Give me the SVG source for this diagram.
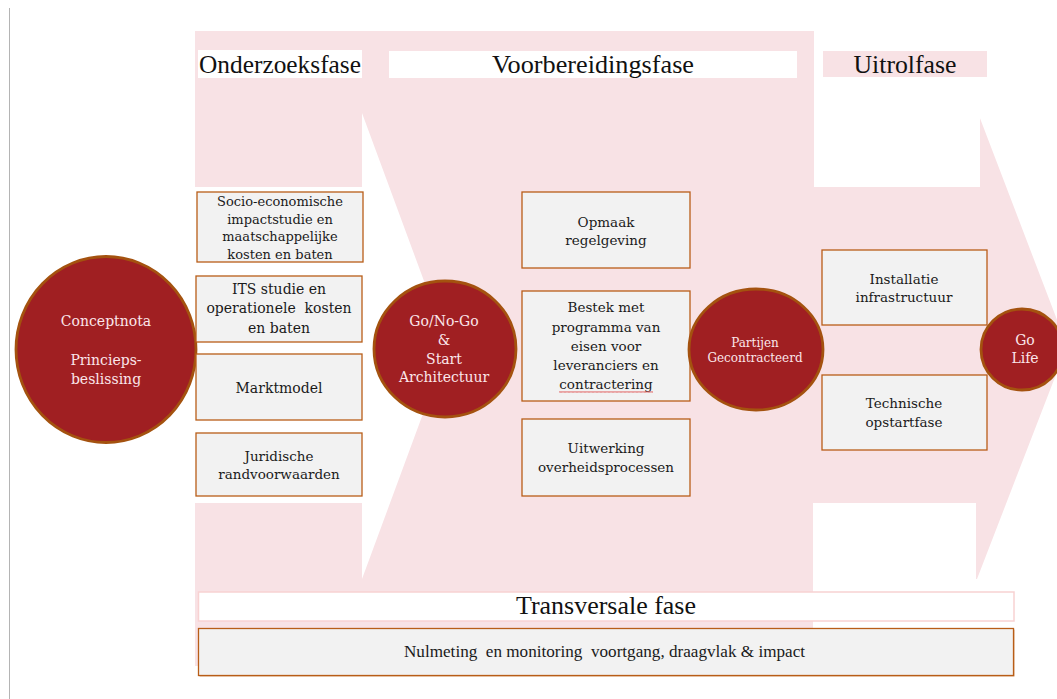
<svg xmlns="http://www.w3.org/2000/svg" width="1057" height="699" viewBox="0 0 1057 699">
<style>
.pink{fill:#f8e2e5}
.wht{fill:#ffffff}
.box{fill:#f2f2f2;stroke:#b85d17;stroke-width:1.3}
.circ{fill:#a01f22;stroke:#a4520f;stroke-width:2.8}
.bt{font-family:"DejaVu Serif","Liberation Serif",serif;font-size:13.5px;fill:#1a1a1a;text-anchor:middle}
.ct{font-family:"DejaVu Serif","Liberation Serif",serif;font-size:14px;fill:#fbe6ea;text-anchor:middle}
.hd{font-family:"Liberation Serif",serif;font-size:25px;fill:#111111}
</style>
<defs>
<pattern id="squig" x="559" y="390" width="4" height="4" patternUnits="userSpaceOnUse">
<polyline points="0,2.8 1,1.2 2,2.8 3,1.2 4,2.8" fill="none" stroke="#e05555" stroke-width="0.7"/>
</pattern>
</defs>
<line x1="9.5" y1="8" x2="9.5" y2="699" stroke="#b4b4b4" stroke-width="1"/>
<g id="background">
<rect class="pink" x="195" y="31" width="619" height="82"/>
<rect class="pink" x="195" y="113" width="167" height="74"/>
<polygon class="pink" points="362,113 978,113 1067,346 977,579 362,579 448,346"/>
<rect class="pink" x="195" y="503" width="167" height="76"/>
<rect class="pink" x="195" y="579" width="619" height="87"/>
<rect class="wht" x="814" y="31" width="166" height="156"/>
<rect class="wht" x="813" y="503" width="163" height="125"/>
</g>
<g id="phase-headers">
<rect class="wht" x="198" y="50" width="164" height="28"/>
<text class="hd" x="199" y="72.5" textLength="162" lengthAdjust="spacingAndGlyphs">Onderzoeksfase</text>
<rect class="wht" x="389" y="51" width="408" height="27"/>
<text class="hd" x="593" y="72.5" text-anchor="middle" textLength="202" lengthAdjust="spacingAndGlyphs">Voorbereidingsfase</text>
<rect class="pink" x="823" y="51" width="164" height="26"/>
<text class="hd" x="905" y="72.5" text-anchor="middle" textLength="103" lengthAdjust="spacingAndGlyphs">Uitrolfase</text>
</g>
<g id="connectors"></g>
<g id="conceptnota">
<ellipse class="circ" cx="106" cy="349.5" rx="90" ry="93"/>
<text class="ct" x="106" y="326">Conceptnota</text>
<text class="ct" x="106" y="365">Princieps-</text>
<text class="ct" x="106" y="384">beslissing</text>
</g>
<g id="socio">
<rect class="box" x="197" y="192" width="166" height="70"/>
<text class="bt" x="280" y="205.5" style="font-size:13px">Socio-economische</text>
<text class="bt" x="280" y="223.5" style="font-size:13px">impactstudie en</text>
<text class="bt" x="280" y="241" style="font-size:13px">maatschappelijke</text>
<text class="bt" x="280" y="258.5" style="font-size:13px">kosten en baten</text>
</g>
<g id="its">
<rect class="box" x="196" y="276" width="166" height="66"/>
<text class="bt" x="279" y="294" style="font-size:14px">ITS studie en</text>
<text class="bt" x="279" y="313" style="font-size:14px" xml:space="preserve">operationele  kosten</text>
<text class="bt" x="279" y="333" style="font-size:14px">en baten</text>
</g>
<g id="marktmodel">
<rect class="box" x="196" y="354" width="166" height="66"/>
<text class="bt" x="279" y="393" style="font-size:14px">Marktmodel</text>
</g>
<g id="juridische">
<rect class="box" x="196" y="433" width="166" height="63"/>
<text class="bt" x="279" y="460.5">Juridische</text>
<text class="bt" x="279" y="479">randvoorwaarden</text>
</g>
<g id="gonogo">
<ellipse class="circ" cx="445" cy="349" rx="71" ry="68"/>
<text class="ct" x="444" y="326">Go/No-Go</text>
<text class="ct" x="444" y="345">&amp;</text>
<text class="ct" x="444" y="364">Start</text>
<text class="ct" x="444" y="382">Architectuur</text>
</g>
<g id="opmaak">
<rect class="box" x="522" y="192" width="168" height="76"/>
<text class="bt" x="606" y="227">Opmaak</text>
<text class="bt" x="606" y="245">regelgeving</text>
</g>
<g id="bestek">
<rect class="box" x="522" y="291" width="168" height="110"/>
<text class="bt" x="606" y="312">Bestek met</text>
<text class="bt" x="606" y="332">programma van</text>
<text class="bt" x="606" y="351">eisen voor</text>
<text class="bt" x="606" y="370">leveranciers en</text>
<text class="bt" x="606" y="389">contractering</text>
<rect x="559" y="390" width="94" height="4" fill="url(#squig)"/>
</g>
<g id="uitwerking">
<rect class="box" x="522" y="419" width="168" height="77"/>
<text class="bt" x="606" y="453">Uitwerking</text>
<text class="bt" x="606" y="472">overheidsprocessen</text>
</g>
<g id="partijen">
<ellipse class="circ" cx="756" cy="349.5" rx="67" ry="60.5"/>
<text class="ct" x="755" y="346.5" style="font-size:12px">Partijen</text>
<text class="ct" x="755" y="361.5" style="font-size:12px">Gecontracteerd</text>
</g>
<g id="installatie">
<rect class="box" x="822" y="250" width="165" height="75"/>
<text class="bt" x="904" y="284">Installatie</text>
<text class="bt" x="904" y="302">infrastructuur</text>
</g>
<g id="technische">
<rect class="box" x="822" y="375" width="165" height="75"/>
<text class="bt" x="904" y="408">Technische</text>
<text class="bt" x="904" y="427">opstartfase</text>
</g>
<g id="golife">
<ellipse class="circ" cx="1022" cy="349.5" rx="41" ry="40.5"/>
<text class="ct" x="1025" y="345">Go</text>
<text class="ct" x="1025" y="363">Life</text>
</g>
<g id="transversale">
<rect x="198.5" y="592" width="815.5" height="29" fill="#ffffff" stroke="#f8d2d2" stroke-width="1.5"/>
<text class="hd" x="606" y="614" text-anchor="middle" textLength="180" lengthAdjust="spacingAndGlyphs">Transversale fase</text>
</g>
<g id="nulmeting">
<rect x="199.5" y="629.5" width="815" height="47" fill="#d9a57a"/>
<rect class="box" x="198.5" y="628.5" width="815" height="47"/>
<text x="604.5" y="657" text-anchor="middle" font-family="Liberation Serif, serif" font-size="16" fill="#1a1a1a" textLength="401" lengthAdjust="spacingAndGlyphs" xml:space="preserve">Nulmeting  en monitoring  voortgang, draagvlak &amp; impact</text>
</g>
</svg>
